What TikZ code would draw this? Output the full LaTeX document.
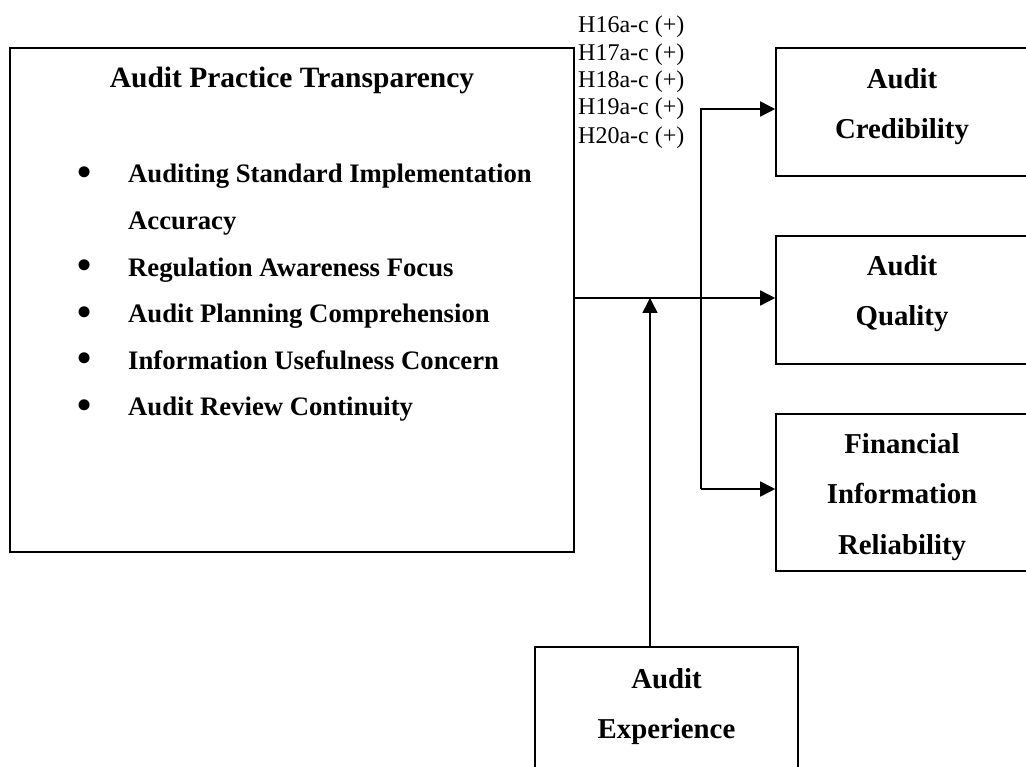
\documentclass[tikz,border=0pt]{standalone}
\usepackage{fontspec}
\setmainfont{Liberation Serif}
\usetikzlibrary{arrows.meta}

\tikzset{
  box/.style={draw, line width=1.6pt, rectangle, inner sep=0pt},
  head/.style={font=\bfseries\fontsize{29.5}{34}\selectfont, inner sep=0pt, anchor=base},
  item/.style={font=\bfseries\fontsize{26.7}{32}\selectfont, inner sep=0pt, anchor=base west},
  dot/.style={font=\fontsize{46}{50}\selectfont, inner sep=0pt, anchor=center},
  boxlabel/.style={font=\bfseries\fontsize{28.8}{50.5}\selectfont, align=center, inner sep=0pt, anchor=north},
  hyp/.style={font=\fontsize{24}{28}\selectfont, inner sep=0pt, anchor=base west},
  link/.style={line width=1.6pt, -{Triangle[length=15pt,width=15pt]}},
}

\begin{document}
\begin{tikzpicture}[x=1pt,y=-1pt]
  \useasboundingbox (0,0) rectangle (1026,767);
  \clip (0,0) rectangle (1026,767);

  % independent construct
  \node[box, minimum width=564pt, minimum height=504pt] (apt) at (292,300) {};
  \node[head] (aptT) at (292,88) {Audit Practice Transparency};
  \node[dot]  (b1) at (85,177)   {•};
  \node[item] (i1) at (128,183)  {Auditing Standard Implementation};
  \node[item] (i1b) at (128,229.6) {Accuracy};
  \node[dot]  (b2) at (85,270.2) {•};
  \node[item] (i2) at (128,276.2) {Regulation Awareness Focus};
  \node[dot]  (b3) at (85,316.8) {•};
  \node[item] (i3) at (128,322.8) {Audit Planning Comprehension};
  \node[dot]  (b4) at (85,363.4) {•};
  \node[item] (i4) at (128,369.4) {Information Usefulness Concern};
  \node[dot]  (b5) at (85,410)   {•};
  \node[item] (i5) at (128,416)  {Audit Review Continuity};

  % hypotheses
  \node[hyp] (h16) at (578,33)  {H16a-c (+)};
  \node[hyp] (h17) at (578,61)  {H17a-c (+)};
  \node[hyp] (h18) at (578,88)  {H18a-c (+)};
  \node[hyp] (h19) at (578,115) {H19a-c (+)};
  \node[hyp] (h20) at (578,144) {H20a-c (+)};

  % dependent constructs
  \node[box, minimum width=252pt, minimum height=128pt] (cred) at (902,112) {};
  \node[boxlabel] (credT) at (902,68) {Audit\\Credibility};
  \node[box, minimum width=252pt, minimum height=128pt] (qual) at (902,300) {};
  \node[boxlabel] (qualT) at (902,255) {Audit\\Quality};
  \node[box, minimum width=252pt, minimum height=157pt] (fir) at (902,492.5) {};
  \node[boxlabel] (firT) at (902,433) {Financial\\Information\\Reliability};

  % moderator
  \node[box, minimum width=263pt, minimum height=128pt] (exp) at (666.5,711) {};
  \node[boxlabel] (expT) at (666.5,668) {Audit\\Experience};

  % connectors
  \coordinate (jt) at (701,109);
  \coordinate (jb) at (701,489);
  \coordinate (m) at (650,298);
  \draw[link] (apt.east |- m) -- (m -| qual.west);
  \draw[link] (jb) -- (jt) -- (jt -| cred.west);
  \draw[link] (jb) -- (jb -| fir.west);
  \draw[link] (m |- exp.north) -- (m);
\end{tikzpicture}
\end{document}
